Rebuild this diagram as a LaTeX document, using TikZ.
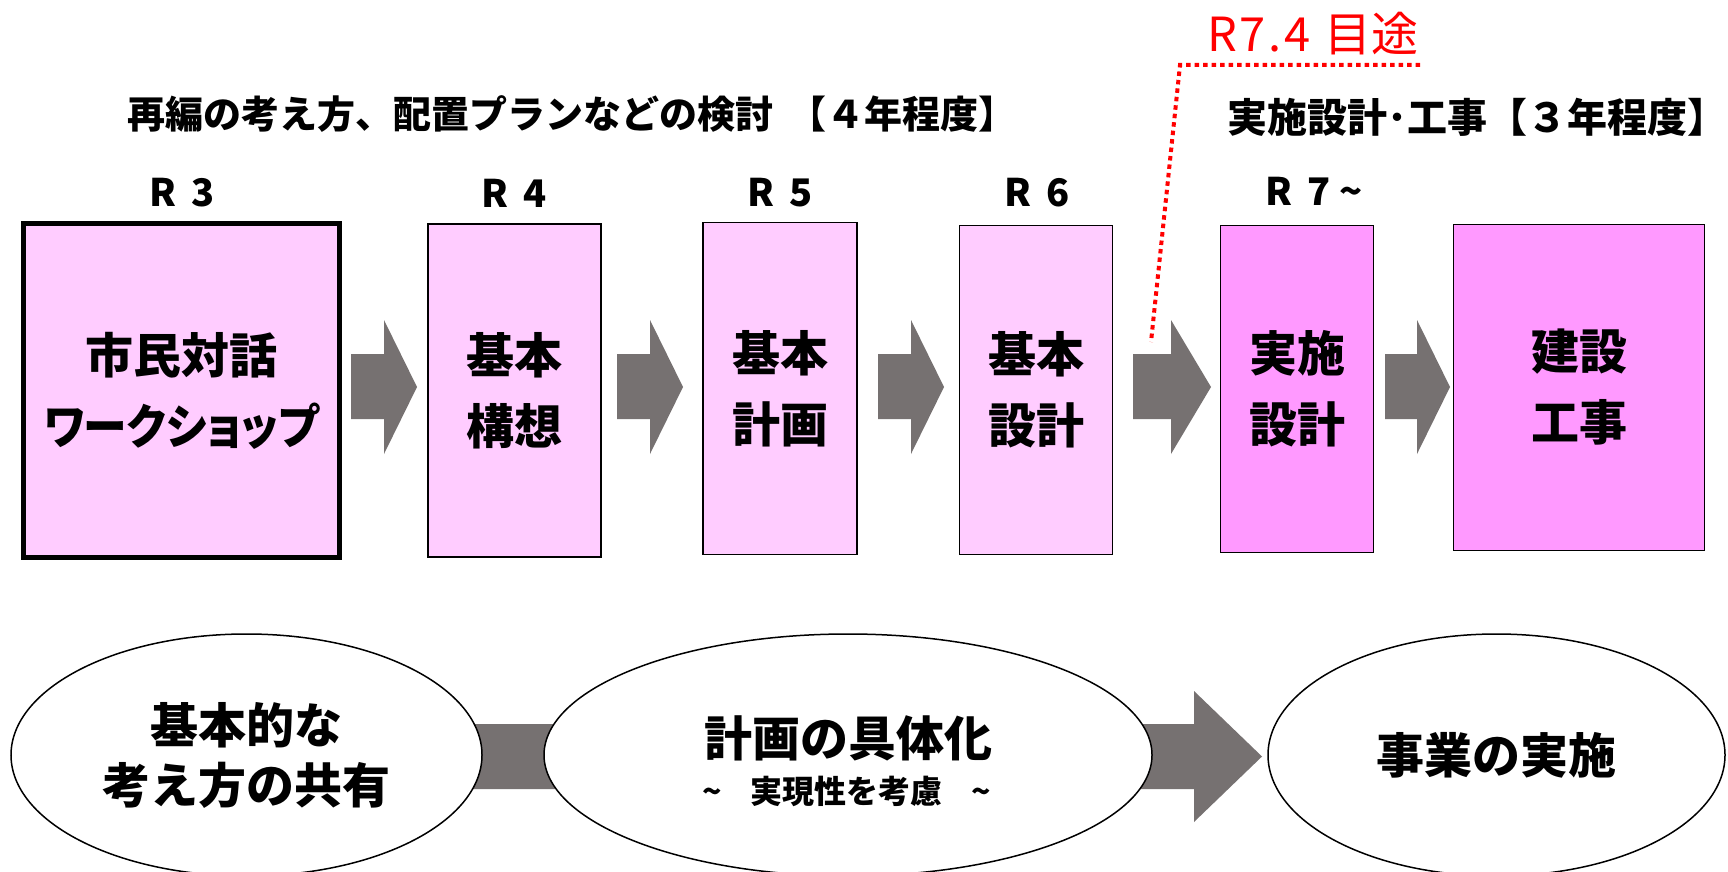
\documentclass[tikz,border=0pt]{standalone}
\usepackage{fontspec}
\setmainfont{Noto Sans CJK JP}
\usetikzlibrary{shapes.geometric}
\definecolor{lpink}{HTML}{FFCCFF}
\definecolor{dpink}{HTML}{FF99FF}
\definecolor{agray}{HTML}{767171}
\begin{document}
\begin{tikzpicture}[x=1pt,y=-1pt,
  lbl/.style={font=\fontsize{38}{38}\selectfont\bfseries, inner sep=0pt},
  headtxt/.style={font=\fontsize{38}{38}\selectfont\bfseries, inner sep=0pt},
  stage/.style={draw=black, line width=1.6pt, inner sep=0pt, align=center, font=\fontsize{48}{71}\selectfont\bfseries},
  light/.style={stage, fill=lpink},
  strong/.style={stage, fill=dpink},
  oval/.style={ellipse, draw=black, line width=1.5pt, fill=white, minimum height=242pt, inner sep=0pt, align=center, font=\fontsize{48}{60}\selectfont\bfseries},
  dotline/.style={red, line width=4pt, dash pattern=on 4.5pt off 4pt},
  blockarrow/.style={fill=agray, draw=none}
]
\useasboundingbox[fill=white] (0,0) rectangle (1728,872);

% headings
\node[headtxt] (h1) at (572,114) {再編の考え方、配置プランなどの検討\hspace{0.4em}【４年程度】};
\node[headtxt, font=\fontsize{40}{40}\selectfont\bfseries] (h2) at (1477,117) {実施設計･工事【３年程度】};
\node[inner sep=0pt, text=red, font=\fontsize{47}{47}\selectfont] (due) at (1313,34) {{\addfontfeatures{LetterSpace=6}R7.4}\hspace{0.3em}目途};

% year labels
\node[lbl] (y3) at (182,193) {R\hspace{0.4em}3};
\node[lbl] (y4) at (514,193) {R\hspace{0.4em}4};
\node[lbl] (y5) at (780,193) {R\hspace{0.4em}5};
\node[lbl] (y6) at (1037,193) {R\hspace{0.4em}6};
\node[lbl] (y7) at (1314,191) {R\hspace{0.4em}7\hspace{0.25em}{\fontsize{38}{38}\selectfont\textasciitilde}};

% stage boxes
\node[light, line width=5pt, minimum width=316pt, minimum height=334pt] (b1) at (181.5,390.5) {市民対話\\{\addfontfeatures{RawFeature=+palt,FakeStretch=0.91}ワークショップ}};
\node[light, minimum width=173pt, minimum height=333pt] (b2) at (514.3,390.4) {基本\\構想};
\node[light, minimum width=154pt, minimum height=332pt] (b3) at (780,388.5) {基本\\計画};
\node[light, minimum width=153pt, minimum height=329pt] (b4) at (1036,390) {基本\\設計};
\node[strong, minimum width=153pt, minimum height=327pt] (b5) at (1297,389) {実施\\設計};
\node[strong, minimum width=251pt, minimum height=326pt] (b6) at (1579,387.5) {建設\\工事};

% block arrows between boxes
\foreach \a/\b/\c in {351/384/417, 617/650/683, 878/911/944, 1133/1171/1211, 1385/1417/1450}
  \fill[blockarrow] (\a,354) -- (\b,354) -- (\b,320) -- (\c,387) -- (\b,454) -- (\b,419) -- (\a,419) -- cycle;

% red dotted leader
\coordinate (dA) at (1420,65);
\coordinate (dB) at (1180,65);
\coordinate (dC) at (1151,342);
\draw[dotline] (dA) -- (dB) -- (dC);

% bottom arrow (behind ellipses)
\fill[blockarrow] (420,724) -- (1194,724) -- (1194,691) -- (1262,756.5) -- (1194,822) -- (1194,789) -- (420,789) -- cycle;

% ellipses
\node[oval, minimum width=471pt] (e1) at (246.5,755) {基本的な\\考え方の共有};
\node[oval, minimum width=608pt] (e2) at (848,755) {};
\node[oval, minimum width=457pt] (e3) at (1496.5,755) {事業の実施};
\node[inner sep=0pt, font=\fontsize{48}{48}\selectfont\bfseries] (e2a) at (848,738) {計画の具体化};
\node[inner sep=0pt, font=\fontsize{32}{32}\selectfont\bfseries] (e2b) at (847,791) {\textasciitilde\hspace{0.9em}実現性を考慮\hspace{0.9em}\textasciitilde};
\end{tikzpicture}
\end{document}
